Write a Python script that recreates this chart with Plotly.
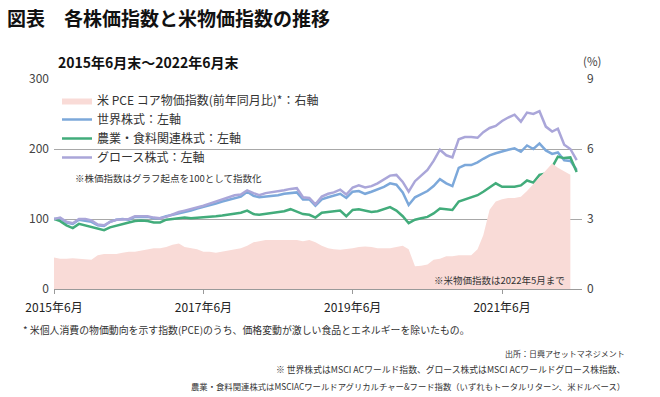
import pandas as pd
import plotly.graph_objects as go

# ---------------- data ----------------
months = pd.date_range("2015-06-01", periods=85, freq="MS")   # 2015/6 .. 2022/6
pce_months = months[:84]                                        # 2015/6 .. 2022/5

world = [100, 101, 95, 93, 99, 98, 96, 91, 90, 96, 99, 100, 99, 103, 103, 103, 101, 101,
         104, 106, 109, 110, 112, 115, 117, 120, 122, 125, 127, 130, 132, 139, 133, 131,
         132, 132, 134, 136, 137, 138, 128, 128, 119, 128, 131, 133, 136, 130, 139, 140,
         136, 139, 142, 146, 151, 149, 138, 120, 131, 136, 140, 147, 157, 151, 147, 173,
         177, 177, 181, 186, 191, 194, 197, 199, 201, 196, 205, 200, 208, 198, 193, 195,
         184, 183, 170]

agri = [100, 97, 91, 87, 93, 91, 89, 86, 84, 88, 90, 92, 95, 97, 98, 97, 95, 95,
        99, 100, 101, 102, 101, 102, 102, 103, 104, 105, 106, 108, 109, 112, 107, 106,
        107, 108, 110, 111, 114, 110, 107, 106, 102, 109, 110, 111, 112, 104, 113, 114,
        112, 110, 111, 114, 117, 112, 104, 94, 99, 101, 103, 108, 115, 114, 113, 125,
        128, 130, 134, 139, 145, 151, 146, 146, 146, 148, 155, 152, 163, 165, 174, 189,
        187, 188, 167]

growth = [100, 102, 96, 94, 100, 100, 98, 92, 91, 96, 99, 100, 100, 104, 104, 104, 102, 101,
          103, 107, 110, 112, 114, 117, 119, 122, 125, 128, 131, 134, 135, 141, 137, 134,
          137, 138, 140, 141, 143, 144, 131, 130, 121, 132, 136, 138, 142, 135, 145, 148,
          145, 147, 151, 156, 162, 163, 153, 139, 154, 162, 170, 183, 199, 191, 188, 214,
          217, 217, 216, 224, 230, 233, 240, 245, 249, 239, 252, 250, 254, 232, 225, 229,
          206, 200, 184]

pce = [1.35, 1.30, 1.30, 1.32, 1.30, 1.28, 1.25, 1.45, 1.50, 1.50, 1.50, 1.55, 1.60, 1.60,
       1.65, 1.70, 1.75, 1.75, 1.80, 1.90, 1.95, 1.80, 1.75, 1.70, 1.60, 1.60, 1.55, 1.60,
       1.65, 1.70, 1.75, 1.85, 2.00, 2.05, 2.10, 2.10, 2.10, 2.10, 2.10, 2.10, 2.05, 2.10,
       2.00, 1.85, 1.75, 1.70, 1.68, 1.70, 1.75, 1.80, 1.82, 1.80, 1.75, 1.75, 1.75, 1.80,
       1.85, 1.70, 0.97, 1.00, 1.05, 1.25, 1.30, 1.40, 1.40, 1.45, 1.45, 1.45, 1.70, 2.30,
       3.40, 3.75, 3.85, 3.90, 3.90, 3.95, 4.20, 4.50, 4.80, 5.10, 5.38, 5.20, 5.05, 4.90]

tick_dates = ["2015-06-01", "2017-06-01", "2019-06-01", "2021-06-01"]
tick_labels = ["2015年6月", "2017年6月", "2019年6月", "2021年6月"]
left_ticks = [0, 100, 200, 300]
right_ticks = [0, 3, 6, 9]

names = ["米 PCE コア物価指数(前年同月比)*：右軸", "世界株式：左軸",
         "農業・食料関連株式：左軸", "グロース株式：左軸"]

# ---------------- layout geometry (pixels) ----------------
W, H = 660, 397
PL, PR, PT, PB = 54, 582, 79, 289
FONT = "Noto Sans CJK JP"
TXT = "#333333"


def px_x(x):
    return (x - PL) / (PR - PL)


def px_y(y):
    return (PB - y) / (PB - PT)


fig = go.Figure()
fig.add_trace(go.Scatter(x=pce_months, y=pce, name=names[0], yaxis="y2",
                         mode="lines", fill="tozeroy", line=dict(width=0, color="#f9dbd7"),
                         fillcolor="#f9dbd7"))
fig.add_trace(go.Scatter(x=months, y=world, name=names[1], mode="lines",
                         line=dict(color="#7ca8da", width=2.5)))
fig.add_trace(go.Scatter(x=months, y=agri, name=names[2], mode="lines",
                         line=dict(color="#42ac7b", width=2.5)))
fig.add_trace(go.Scatter(x=months, y=growth, name=names[3], mode="lines",
                         line=dict(color="#aaa6d9", width=2.5)))

fig.update_layout(
    width=W, height=H,
    margin=dict(l=PL, r=W - PR, t=PT, b=H - PB, pad=0),
    paper_bgcolor="white", plot_bgcolor="white",
    font=dict(family=FONT, color=TXT, size=12),
    showlegend=True,
    legend=dict(x=px_x(57), y=px_y(86), xanchor="left", yanchor="top",
                bgcolor="rgba(0,0,0,0)", font=dict(size=12, color=TXT),
                tracegroupgap=0, itemwidth=30, borderwidth=0),
    xaxis=dict(type="date", range=["2015-06-01", "2022-06-27"],
               tickvals=tick_dates, ticktext=tick_labels,
               showgrid=False, zeroline=False,
               showline=True, linecolor="#9a9a9a", linewidth=1,
               ticks="outside", ticklen=4, tickcolor="#9a9a9a",
               tickfont=dict(size=12, color="#222222"), ticklabelstandoff=4),
    yaxis=dict(range=[0, 300], tickvals=left_ticks, showgrid=True,
               gridcolor="#a8a8a8", gridwidth=1, zeroline=False, showline=False,
               ticks="", tickfont=dict(size=12, color="#444444"), ticklabelstandoff=4),
    yaxis2=dict(range=[0, 9], tickvals=right_ticks, overlaying="y", side="right",
                showgrid=False, zeroline=False, showline=False, ticks="",
                tickfont=dict(size=12, color="#444444"), ticklabelstandoff=4),
)

# white background behind part of the legend (interrupts the 200 grid line)
fig.add_shape(type="rect", xref="paper", yref="paper",
              x0=px_x(65), x1=px_x(250), y0=px_y(160), y1=px_y(140),
              fillcolor="white", line=dict(width=0), layer="between")

ann = [
    dict(text="<b>図表　各株価指数と米物価指数の推移</b>", x=5, y=18, size=19,
         color="#111111", xanchor="left"),
    dict(text="<b>2015年6月末～2022年6月末</b>", x=56, y=62, size=14,
         color="#111111", xanchor="left"),
    dict(text="(%)", x=592, y=61, size=11.5, color="#444444", xanchor="center"),
    dict(text="※株価指数はグラフ起点を100として指数化", x=73, y=178, size=9.5,
         color=TXT, xanchor="left"),
    dict(text="※米物価指数は2022年5月まで", x=432, y=280, size=9.5,
         color=TXT, xanchor="left"),
    dict(text="* 米個人消費の物価動向を示す指数(PCE)のうち、価格変動が激しい食品とエネルギーを除いたもの。",
         x=21, y=330, size=9.9, color=TXT, xanchor="left"),
    dict(text="出所：日興アセットマネジメント", x=627, y=353, size=8, color=TXT,
         xanchor="right"),
    dict(text="※ 世界株式はMSCI ACワールド指数、グロース株式はMSCI ACワールドグロース株指数、",
         x=627, y=369, size=8.8, color=TXT, xanchor="right"),
    dict(text="農業・食料関連株式はMSCIACワールドアグリカルチャー&フード指数（いずれもトータルリターン、米ドルベース）",
         x=627, y=386, size=8.35, color=TXT, xanchor="right"),
]
for a in ann:
    fig.add_annotation(text=a["text"], xref="paper", yref="paper",
                       x=px_x(a["x"]), y=px_y(a["y"]), xanchor=a["xanchor"],
                       yanchor="middle", showarrow=False,
                       font=dict(family=FONT, size=a["size"], color=a["color"]))

fig.write_html("out.html", config={"displayModeBar": False},
               post_script="document.body.style.margin='0';document.body.style.overflow='hidden';")
